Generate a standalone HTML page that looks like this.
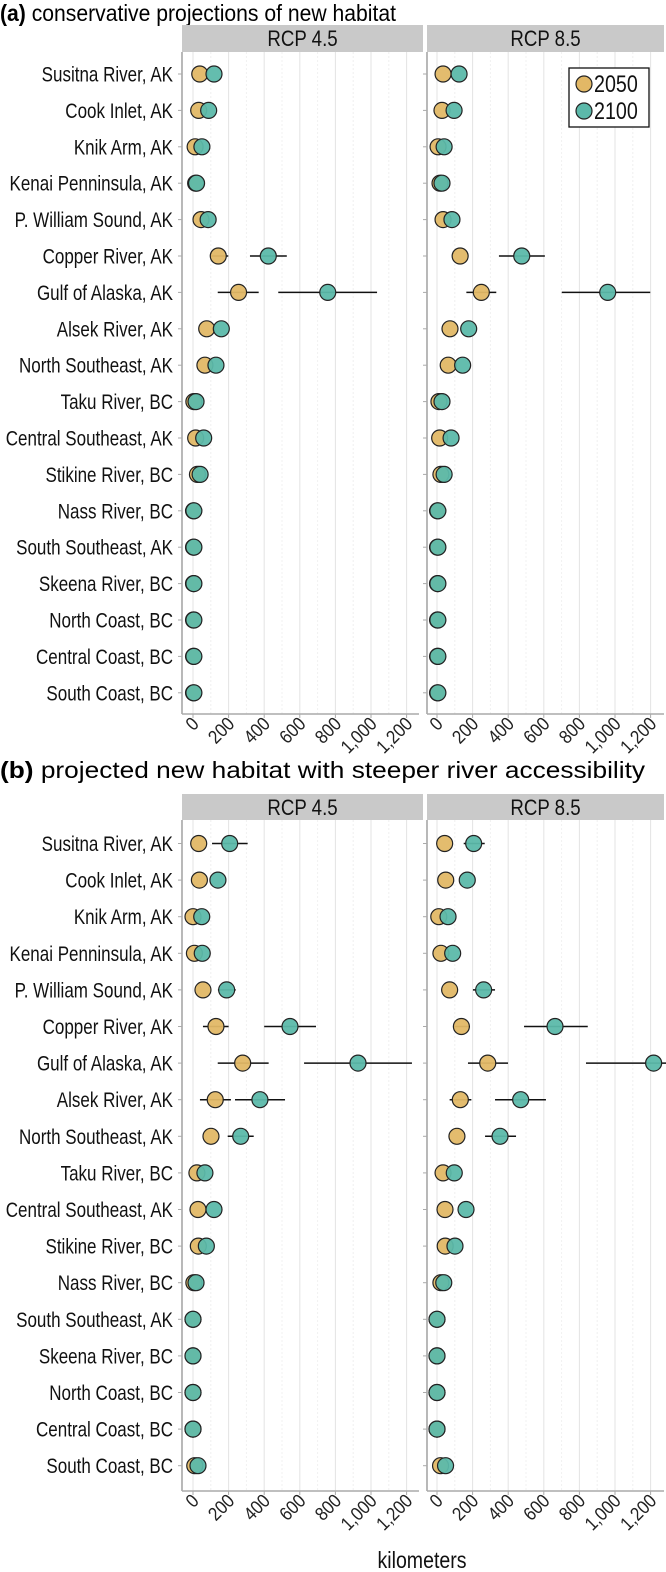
<!DOCTYPE html>
<html><head><meta charset="utf-8"><style>
body{margin:0;background:#fff}
svg{display:block;font-family:"Liberation Sans",Arial,sans-serif}
</style></head><body>
<svg id="chart" width="666" height="1572" viewBox="0 0 666 1572"></svg>
<script>
const regions = ["Susitna River, AK","Cook Inlet, AK","Knik Arm, AK","Kenai Penninsula, AK","P. William Sound, AK","Copper River, AK","Gulf of Alaska, AK","Alsek River, AK","North Southeast, AK","Taku River, BC","Central Southeast, AK","Stikine River, BC","Nass River, BC","South Southeast, AK","Skeena River, BC","North Coast, BC","Central Coast, BC","South Coast, BC"];
const xTicks = [0,200,400,600,800,1000,1200];
const xTickLabels = ["0","200","400","600","800","1,000","1,200"];
const scenarios = ["RCP 4.5","RCP 8.5"];
const years = ["2050","2100"];
// panel a, RCP 4.5
const a45_2050 = [38,32,12,15,45,142,256,77,67,5,15,25,3,3,3,3,3,3];
const a45_2050_lo = [null,null,null,null,null,98,139,null,null,null,null,null,null,null,null,null,null,null];
const a45_2050_hi = [null,null,null,null,null,198,369,null,null,null,null,null,null,null,null,null,null,null];
const a45_2100 = [118,88,50,20,85,423,757,159,129,17,60,40,5,5,5,5,5,5];
const a45_2100_lo = [null,null,null,null,null,320,479,null,null,null,null,null,null,null,null,null,null,null];
const a45_2100_hi = [null,null,null,null,null,527,1034,null,null,null,null,null,null,null,null,null,null,null];
// panel a, RCP 8.5
const a85_2050 = [34,28,6,17,34,130,249,73,63,11,15,22,3,3,3,3,3,3];
const a85_2050_lo = [null,null,null,null,null,null,165,null,null,null,null,null,null,null,null,null,null,null];
const a85_2050_hi = [null,null,null,null,null,null,333,null,null,null,null,null,null,null,null,null,null,null];
const a85_2100 = [124,96,40,28,84,476,959,178,144,28,79,40,5,5,5,5,5,5];
const a85_2100_lo = [null,null,null,null,null,348,701,null,null,null,null,null,null,null,null,null,null,null];
const a85_2100_hi = [null,null,null,null,null,606,1198,null,null,null,null,null,null,null,null,null,null,null];
// panel b, RCP 4.5
const b45_2050 = [32,36,0,8,56,129,279,125,101,22,28,30,5,0,0,0,0,10];
const b45_2050_lo = [null,null,null,null,null,56,139,39,null,null,null,null,null,null,null,null,null,null];
const b45_2050_hi = [null,null,null,null,null,200,425,213,null,null,null,null,null,null,null,null,null,null];
const b45_2100 = [206,140,49,52,189,545,927,376,268,67,118,75,17,0,0,0,0,28];
const b45_2100_lo = [107,null,null,null,140,400,624,236,195,null,null,null,null,null,null,null,null,null];
const b45_2100_hi = [307,null,null,null,240,691,1230,517,341,null,null,null,null,null,null,null,null,null];
// panel b, RCP 8.5
const b85_2050 = [43,49,10,22,71,137,285,131,112,34,45,46,22,0,0,0,0,20];
const b85_2050_lo = [null,null,null,null,null,92,174,71,null,null,null,null,null,null,null,null,null,null];
const b85_2050_hi = [null,null,null,null,null,185,399,193,null,null,null,null,null,null,null,null,null,null];
const b85_2100 = [206,170,62,88,262,663,1217,470,354,97,163,101,38,0,0,0,0,48];
const b85_2100_lo = [150,null,null,null,202,489,837,326,270,null,null,null,null,null,null,null,null,null];
const b85_2100_hi = [268,null,null,null,326,847,1300,612,444,null,null,null,null,null,null,null,null,null];

const NS="http://www.w3.org/2000/svg";
const svg=document.getElementById('chart');
function mk(tag,attrs,parent,text){const e=document.createElementNS(NS,tag);for(const k in attrs)e.setAttribute(k,attrs[k]);if(text!==undefined)e.textContent=text;(parent||svg).appendChild(e);return e;}
const COL={"2050":"#e2b866","2100":"#5cb9aa"};
const facetX=[{axis:182,x0:193,right:421},{axis:427,x0:437,right:664}];
const K=0.178;
function xScale(f,v){return facetX[f].x0+v*K;}

const panels=[
 {key:'a',title:' conservative projections of new habitat',label:'(a)',titleY:21,tlen:396,stripTop:25,stripBot:52,bottom:714,row0:74,step:36.4,
  data:[[ [a45_2050,a45_2050_lo,a45_2050_hi],[a45_2100,a45_2100_lo,a45_2100_hi] ],[ [a85_2050,a85_2050_lo,a85_2050_hi],[a85_2100,a85_2100_lo,a85_2100_hi] ]]},
 {key:'b',title:' projected new habitat with steeper river accessibility',label:'(b)',titleY:778,tlen:645,stripTop:794,stripBot:820,bottom:1491,row0:843.5,step:36.6,
  data:[[ [b45_2050,b45_2050_lo,b45_2050_hi],[b45_2100,b45_2100_lo,b45_2100_hi] ],[ [b85_2050,b85_2050_lo,b85_2050_hi],[b85_2100,b85_2100_lo,b85_2100_hi] ]]}
];

panels.forEach(p=>{
  const g=mk('g',{});
  
  
  const t=mk('text',{x:0,y:p.titleY,'font-size':23,fill:'#000'},g);
  
  
  mk('tspan',{'font-weight':'bold'},t,p.label);
  mk('tspan',{},t,p.title);
  t.setAttribute('textLength', String(p.tlen));
  t.setAttribute('lengthAdjust','spacingAndGlyphs');
  const yRow=i=>p.row0+i*p.step;
  regions.forEach((r,i)=>{
    const lab=mk('text',{x:0,y:0,'font-size':21,'text-anchor':'end',transform:`translate(173,${yRow(i)+7.5}) scale(0.81,1)`,fill:'#111'},g,r);
    
    
  });
  facetX.forEach((f,fi)=>{
    const fg=mk('g',{},g);
    
    
    const strip=mk('rect',{x:f.axis,y:p.stripTop,width:(fi?664:423)-f.axis,height:p.stripBot-p.stripTop,fill:'#c9c9c9'},fg);
    
    
    const st=mk('text',{x:0,y:0,'font-size':22,'text-anchor':'middle',transform:`translate(${(f.axis+(fi?664:423))/2},${p.stripTop+21}) scale(0.85,1)`,fill:'#111'},fg,scenarios[fi]);
    
    
    for(let v=0;v<=1300;v+=100){
      const x=xScale(fi,v); if(x>f.right) break;
      const gl=mk('line',{x1:x,x2:x,y1:p.stripBot,y2:p.bottom,stroke:v%200===0?'#e3e3e3':'#f0f0f0','stroke-width':1,'stroke-dasharray':v%200===0?'':'2,2'},fg);
      
      
    }
    const ya=mk('line',{x1:f.axis,x2:f.axis,y1:p.stripBot,y2:p.bottom,stroke:'#8a8a8a','stroke-width':1.2},fg);
    
    
    const xa=mk('line',{x1:f.axis,x2:f.right+(fi?0:-2),y1:p.bottom,y2:p.bottom,stroke:'#aaa','stroke-width':1.5},fg);
    
    
    regions.forEach((r,i)=>{
      const tk=mk('line',{x1:f.axis-4,x2:f.axis,y1:yRow(i),y2:yRow(i),stroke:'#aaa'},fg);
      
      
    });
    xTicks.forEach((v,ti)=>{
      const x=xScale(fi,v);
      const tk=mk('line',{x1:x,x2:x,y1:p.bottom,y2:p.bottom+4,stroke:'#aaa'},fg);
      
      
      const tl=mk('text',{x:0,y:0,'font-size':19,'text-anchor':'end',fill:'#222',transform:`translate(${x+7},${p.bottom+11}) rotate(-45) scale(0.88,1)`},fg,xTickLabels[ti]);
      
      
    });
    p.data[fi].forEach((ser,si)=>{
      const [vals,lo,hi]=ser;
      vals.forEach((v,i)=>{
        if(lo[i]!==null){
          const x2=Math.min(xScale(fi,hi[i]),666);
          const eb=mk('line',{x1:xScale(fi,lo[i]),x2:x2,y1:yRow(i),y2:yRow(i),stroke:'#111','stroke-width':1.5},fg);
          
          
        }
      });
    });
    p.data[fi].forEach((ser,si)=>{
      ser[0].forEach((v,i)=>{
        const c=mk('circle',{cx:xScale(fi,v),cy:yRow(i),r:8,fill:COL[years[si]],stroke:'#222','stroke-width':1.2,'fill-opacity':0.95},fg);
        
        
      });
    });
  });
});
const lg=mk('g',{});


const lb=mk('rect',{x:569,y:68,width:80,height:59,fill:'#fff',stroke:'#111','stroke-width':1.3},lg);


years.forEach((y,i)=>{
  const c=mk('circle',{cx:584,cy:84+i*27,r:8,fill:COL[y],stroke:'#222','stroke-width':1.2},lg);
  
  
  const t=mk('text',{x:0,y:0,'font-size':24,fill:'#111',transform:`translate(594,${92+i*27}) scale(0.82,1)`},lg,y);
  
  
});
const xl=mk('text',{x:0,y:0,'font-size':23,'text-anchor':'middle',fill:'#111',transform:'translate(422,1568) scale(0.85,1)'},svg,'kilometers');


</script>
</body></html>
